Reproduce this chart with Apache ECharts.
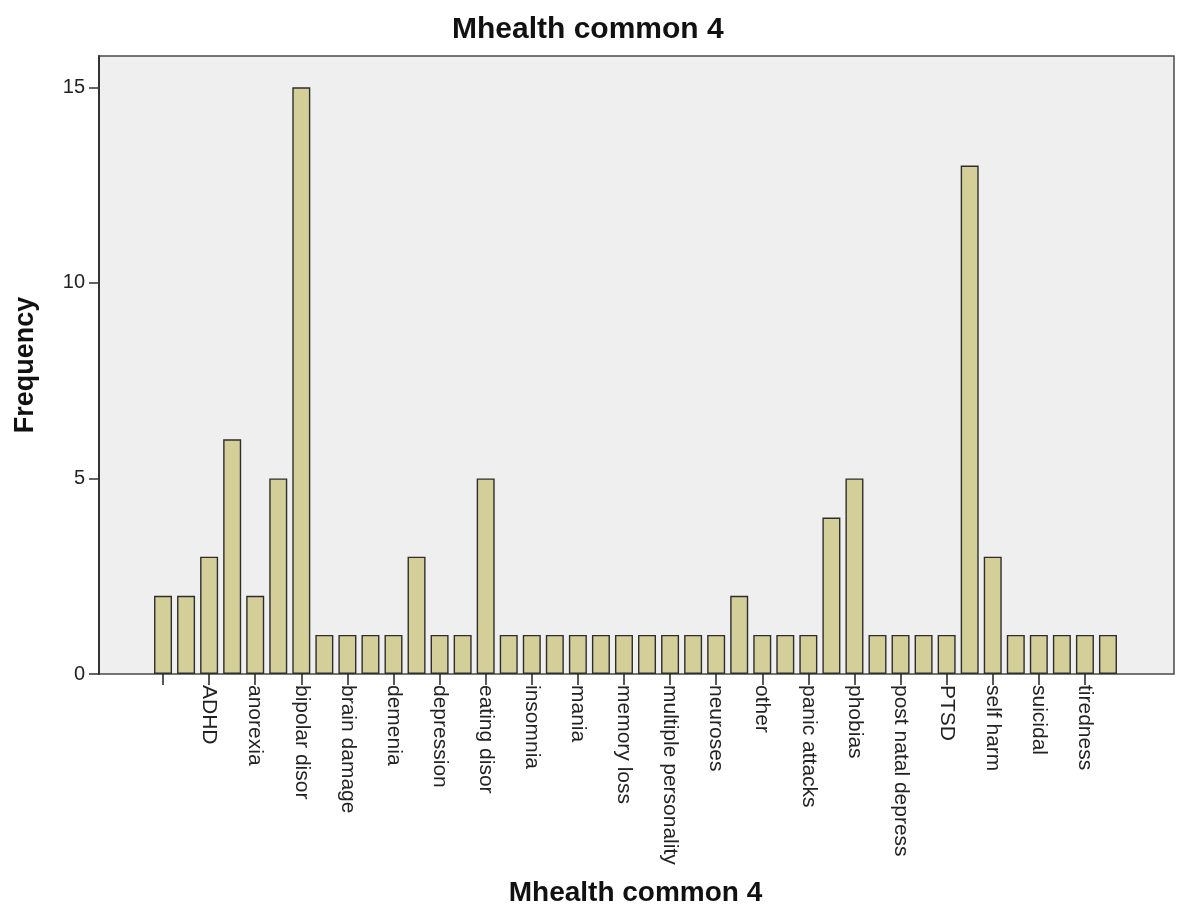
<!DOCTYPE html>
<html>
<head>
<meta charset="utf-8">
<script src="https://cdn.jsdelivr.net/npm/echarts@6/dist/echarts.min.js"></script>
<style>
html,body{margin:0;padding:0;background:#fff;}
#chart{width:1183px;height:907px;}
</style>
</head>
<body>
<div id="chart"></div>
<script>
// Categories (only every other one is labelled in the picture)
var categories = [
  "", "addiction", "ADHD", "alzheimers", "anorexia", "anxiety",
  "bipolar disor", "borderline", "brain damage", "bulimia", "demenia", "dementia",
  "depression", "drug abuse", "eating disor", "hallucinations", "insomnia", "learning disab",
  "mania", "manic depression", "memory loss", "mood swings", "multiple personality", "nervous breakdown",
  "neuroses", "obsessive compul", "other", "overdose", "panic attacks", "paranoia",
  "phobias", "poor memory", "post natal depress", "psychosis", "PTSD", "schizophrenia",
  "self harm", "stress", "suicidal", "suicide", "tiredness", "trauma"
];
var frequencies = [
  2, 2, 3, 6, 2, 5,
  15, 1, 1, 1, 1, 3,
  1, 1, 5, 1, 1, 1,
  1, 1, 1, 1, 1, 1,
  1, 2, 1, 1, 1, 4,
  5, 1, 1, 1, 1, 13,
  3, 1, 1, 1, 1, 1
];
var yTicks = [0, 5, 10, 15];
var chartTitle = "Mhealth common 4";
var xName = "Mhealth common 4";
var yName = "Frequency";

var FONT = "'Liberation Sans', Arial, sans-serif";
var chart = echarts.init(document.getElementById('chart'), null, {renderer: 'canvas'});
var option = {
  backgroundColor: '#ffffff',
  animation: false,
  title: {
    text: chartTitle,
    left: 447,
    top: 10,
    textStyle: {fontFamily: FONT, fontSize: 30, fontWeight: 'bold', color: '#111'}
  },
  grid: [
    {left: 99, top: 56, width: 1075, height: 618, show: true, outerBoundsMode: 'none',
     containLabel: false,
     backgroundColor: '#efefef', borderColor: '#4a4a4a', borderWidth: 1.5},
    {left: 151.5, top: 56, width: 968, height: 618, show: false, outerBoundsMode: 'none',
     containLabel: false}
  ],
  xAxis: [
    {gridIndex: 0, type: 'value', min: 0, max: 1, show: false},
    {gridIndex: 1, type: 'category', data: categories,
     boundaryGap: true,
     axisLine: {show: false},
     axisTick: {show: true, interval: 1, alignWithLabel: true, length: 11,
                lineStyle: {color: '#222', width: 1.5}},
     axisLabel: {interval: 1, rotate: -90, margin: 11, fontFamily: FONT,
                 fontSize: 21, color: '#222', hideOverlap: false},
     name: xName, nameLocation: 'middle', nameGap: 205,
     nameTextStyle: {fontFamily: FONT, fontSize: 28, fontWeight: 'bold', color: '#111'}
    }
  ],
  yAxis: [
    {gridIndex: 0, type: 'value', min: 0, max: 15.8, interval: 5,
     axisLine: {show: true, lineStyle: {color: '#333', width: 2}},
     axisTick: {show: true, length: 10, lineStyle: {color: '#333', width: 1.5},
                customValues: yTicks},
     axisLabel: {margin: 14, fontFamily: FONT, fontSize: 20, color: '#222',
                 customValues: yTicks},
     splitLine: {show: false},
     name: yName, nameLocation: 'middle', nameGap: 60, nameRotate: 90,
     nameTextStyle: {fontFamily: FONT, fontSize: 27, fontWeight: 'bold', color: '#111'}
    },
    {gridIndex: 1, type: 'value', min: 0, max: 15.8, show: false}
  ],
  series: [{
    type: 'bar',
    xAxisIndex: 1,
    yAxisIndex: 1,
    data: frequencies,
    barWidth: 18,
    itemStyle: {color: '#d4cf98', borderColor: '#2e2e2e', borderWidth: 1.4}
  }]
};
chart.setOption(option);
</script>
</body>
</html>
